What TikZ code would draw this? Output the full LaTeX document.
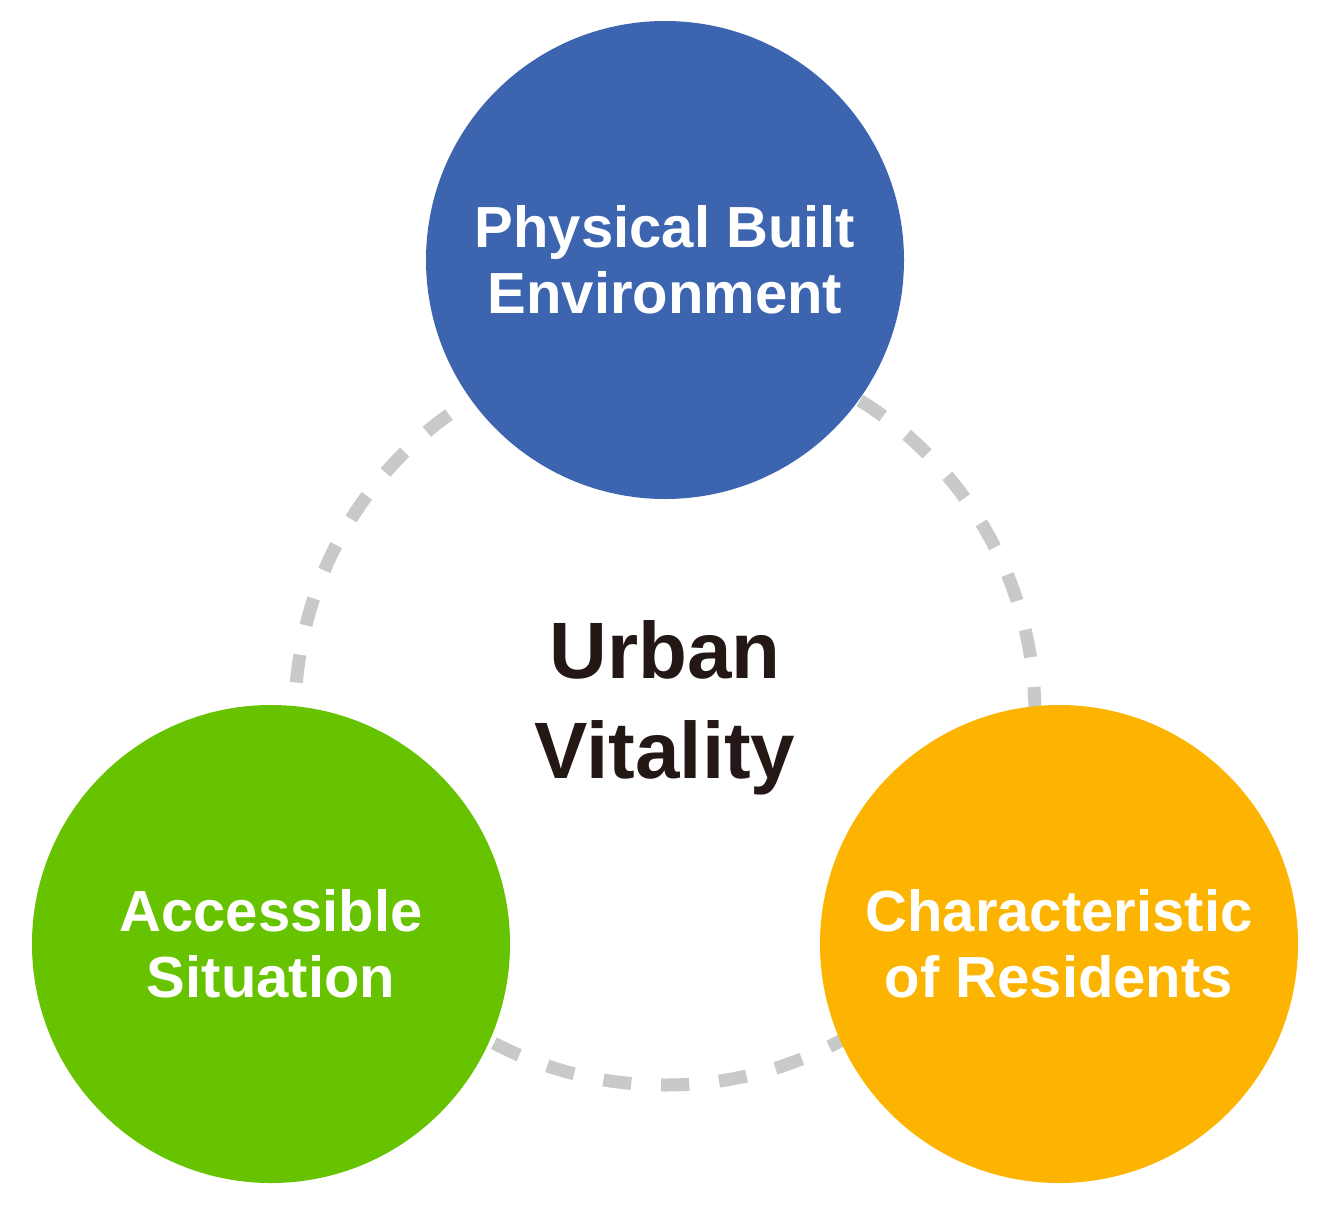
\documentclass[tikz,border=0pt]{standalone}
\usepackage{fontspec}
\setmainfont{Liberation Sans}
\definecolor{cblue}{HTML}{3D64AF}
\definecolor{cgreen}{HTML}{67C300}
\definecolor{corange}{HTML}{FDB401}
\definecolor{cring}{HTML}{C8CACA}
\definecolor{ctext}{HTML}{231815}
\begin{document}
\begin{tikzpicture}[x=1pt,y=-1pt,
  bubble/.style={circle,minimum size=478pt,inner sep=0pt,text=white,align=center,
    font=\fontsize{58}{66}\selectfont\bfseries},
  ringstyle/.style={circle,minimum size=740pt,inner sep=0pt,draw=cring,line width=13pt,
    dash pattern=on 28pt off 30pt}]
\useasboundingbox[fill=white] (0,0) rectangle (1322,1207);
\node[ringstyle] (ring) at (665,715) {};
\node[bubble,fill=cblue] (pbe) at (665,260) {Physical Built\\Environment};
\node[bubble,fill=cgreen] (acc) at (271,944) {Accessible\\Situation};
\node[bubble,fill=corange] (res) at (1059,944) {Characteristic\\of Residents};
\node[align=center,text=ctext,font=\fontsize{80}{100}\selectfont\bfseries] (uv) at (665,708) {Urban\\Vitality};
\end{tikzpicture}
\end{document}
